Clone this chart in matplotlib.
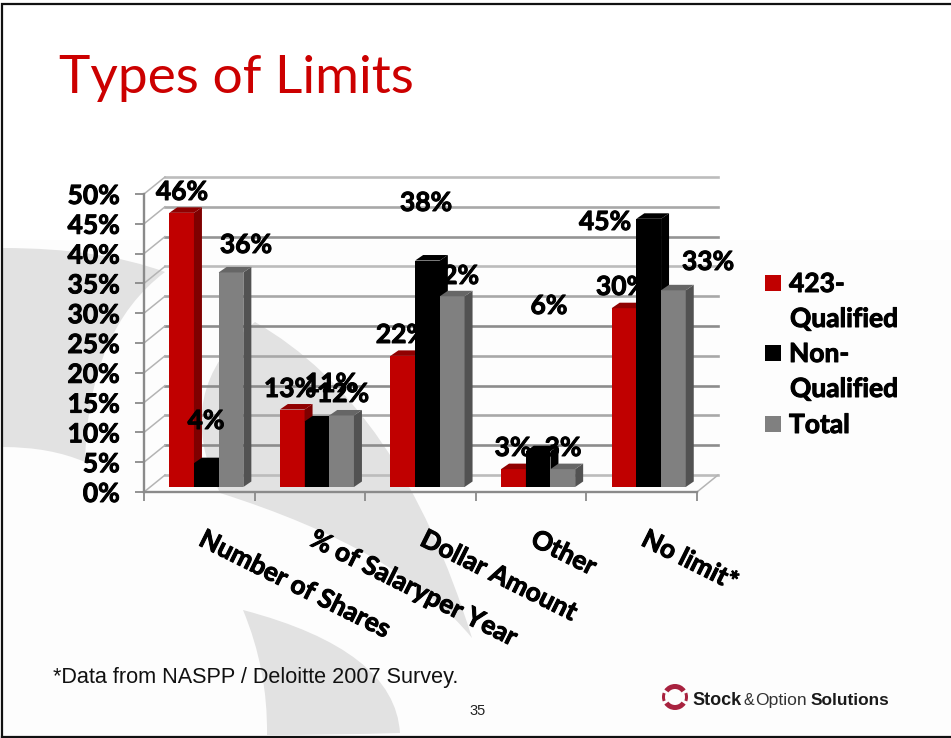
import numpy as np
from matplotlib import pyplot as plt
from matplotlib import patheffects as pe
from matplotlib.patches import PathPatch, Polygon, Rectangle, Wedge
from matplotlib.path import Path

categories = ["Number of Shares", "% of Salaryper Year", "Dollar Amount", "Other", "No limit*"]
qualified = [46, 13, 22, 3, 30]
non_qualified = [4, 11, 38, 6, 45]
total = [36, 12, 32, 3, 33]
y_ticks = [0, 5, 10, 15, 20, 25, 30, 35, 40, 45, 50]
legend_rows = ["423-", "Qualified", "Non-", "Qualified", "Total"]

W, H = 951, 738
plt.rcParams["font.family"] = ["Lato", "DejaVu Sans"]
BOLD = dict(fontweight="bold", color="black", path_effects=[pe.withStroke(linewidth=0.7, foreground="black")])

fig = plt.figure(figsize=(W / 100, H / 100), dpi=100, facecolor="white")

# page layer, in image pixels
page = fig.add_axes([0, 0, 1, 1], zorder=0)
page.set_xlim(0, W)
page.set_ylim(H, 0)
page.axis("off")

page.add_patch(Rectangle((0, 240), W, H - 240, fc="#fdfdfd", ec="none"))


def swoosh(points):
    codes = [Path.MOVETO] + [Path.CURVE3] * (len(points) - 1)
    page.add_patch(PathPatch(Path(points, codes), fc="#e2e2e2", ec="none"))


swoosh([(3, 248), (100, 248), (165, 272), (88, 330), (85, 462), (50, 447), (3, 447), (3, 350), (3, 248)])
swoosh([(255, 322), (400, 405), (472, 638), (400, 550), (220, 493), (170, 390), (255, 322)])
swoosh([(243, 610), (395, 650), (400, 733), (335, 735), (267, 735), (268, 670), (243, 610)])

# slide border
page.plot([2, 2, W], [H - 1, 4, 4], color="#111111", lw=1.6, solid_joinstyle="miter")
page.plot([2, W], [H - 1, H - 1], color="#111111", lw=1.6)

# chart layer, front plane of the 3d box
ax = fig.add_axes([144 / W, (H - 492) / H, (697 - 144) / W, (492 - 194) / H], zorder=1)
ax.patch.set_alpha(0)
ax.set_xlim(-0.5, 4.5)
ax.set_ylim(0, 50)

unit_x = (697 - 144) / 5
unit_y = (492 - 194) / 50
wall_dx, wall_dy = 21 / unit_x, 17 / unit_y
bar_dx, bar_dy = 8 / unit_x, 5.5 / unit_y
shift, lift = 7 / unit_x, 5 / unit_y
width = 24.7 / unit_x

grid_colors = ["#bcbcbc", "#8c8c8c", "#a8a8a8", "#8c8c8c", "#a8a8a8", "#8c8c8c",
               "#a8a8a8", "#bcbcbc", "#949494", "#a8a8a8", "#bcbcbc"]
for v, c in zip(y_ticks, grid_colors):
    ax.plot([-0.5 + wall_dx, 4.5 + wall_dx], [v + wall_dy, v + wall_dy], color=c, lw=1.9, zorder=1, clip_on=False)
    ax.plot([-0.5, -0.5 + wall_dx], [v, v + wall_dy], color="#b4b4b4", lw=1.1, zorder=1, clip_on=False)
ax.plot([4.5, 4.5 + wall_dx], [0, wall_dy], color="#b4b4b4", lw=1.1, zorder=1, clip_on=False)

x = np.arange(len(categories))
series = [
    (qualified, "#c00000", "#7f0000", "#900000", 2),
    (non_qualified, "#000000", "#000000", "#000000", 3),
    (total, "#808080", "#525252", "#666666", 4),
]
for i, (vals, front, side, top, z) in enumerate(series):
    pos = x + shift + (i - 1) * width
    ax.bar(pos, vals, width, bottom=lift, color=front, zorder=z, clip_on=False)
    for p, v in zip(pos, vals):
        r = p + width / 2
        l = p - width / 2
        t = v + lift
        ax.add_patch(Polygon([(r, lift), (r + bar_dx, lift + bar_dy), (r + bar_dx, t + bar_dy), (r, t)],
                             fc=side, ec="none", zorder=z, clip_on=False))
        ax.add_patch(Polygon([(l, t), (l + bar_dx, t + bar_dy), (r + bar_dx, t + bar_dy), (r, t)],
                             fc=top, ec="none", zorder=z, clip_on=False))

for s in ["top", "right"]:
    ax.spines[s].set_visible(False)
for s in ["left", "bottom"]:
    ax.spines[s].set_color("#8a8a8a")
    ax.spines[s].set_linewidth(1.7)

ax.set_yticks(y_ticks)
ax.set_yticklabels([f"{v}%" for v in y_ticks], fontsize=19, **BOLD)
ax.tick_params(axis="y", length=6.5, width=1.3, color="#8a8a8a", pad=11)
ax.set_xticks(np.arange(-0.5, 5), minor=True)
ax.tick_params(axis="x", which="minor", length=6.5, width=1.3, color="#8a8a8a")
ax.set_xticks(x + shift)
ax.set_xticklabels(categories, rotation=-26.5, ha="left", rotation_mode="anchor", fontsize=18.8, **BOLD)
ax.tick_params(axis="x", which="major", length=0, pad=25)

# data labels sit where the source slide left them, some behind the bars
label_centres = [
    [(182, 192), (290, 389), (402, 335), (513, 448), (622, 287)],
    [(206, 421), (331, 384), (426, 203), (549, 306), (605, 222)],
    [(246, 245), (343, 394), (453, 276), (563, 448), (708, 262)],
]
label_z = [
    [6, 6, 2.5, 2.5, 2.5],
    [6, 6, 6, 6, 6],
    [6, 6, 2.5, 2.5, 6],
]
for (vals, *_), centres, zs in zip(series, label_centres, label_z):
    for v, (cx, cy), z in zip(vals, centres, zs):
        ax.text(cx, cy, f"{v}%", transform=page.transData, ha="center", va="center",
                fontsize=19, zorder=z, clip_on=False, **BOLD)

# legend
swatches = [("#c00000", 283), ("#000000", 353), ("#808080", 424)]
for c, cy in swatches:
    page.add_patch(Rectangle((765, cy - 8), 16, 16, fc=c, ec="none"))
for row, cy, tx in zip(legend_rows, [284, 319, 354, 389, 425], [789, 790, 789, 790, 789]):
    page.text(tx, cy, row, ha="left", va="center", fontsize=19, **BOLD)

page.text(59, 93, "Types of Limits", ha="left", va="baseline", fontsize=38.3, color="#cc0000")
page.text(53, 683, "*Data from NASPP / Deloitte 2007 Survey.", ha="left", va="baseline",
          fontsize=15.6, family="Liberation Sans", color="#111111")
page.text(478, 711, "35", ha="center", va="center", fontsize=10.5, family="Liberation Sans", color="#222222")

# logo
for a, b in [(35, 145), (215, 325), (160, 200), (340, 380)]:
    page.add_patch(Wedge((675, 697), 13, a, b, width=5 if b - a > 50 else 3, fc="#a8223f", ec="none"))
page.text(692, 705, "Stock", fontsize=13, fontweight="bold", family="Liberation Sans", color="#1a1a1a")
page.text(744, 705, "&", fontsize=11.5, family="Liberation Sans", color="#333333")
page.text(755, 705, "Option", fontsize=12.6, family="Liberation Sans", color="#333333")
page.text(811, 705, "Solutions", fontsize=12.4, fontweight="bold", family="Liberation Sans", color="#1a1a1a")

fig.savefig("out.png", dpi=100)
